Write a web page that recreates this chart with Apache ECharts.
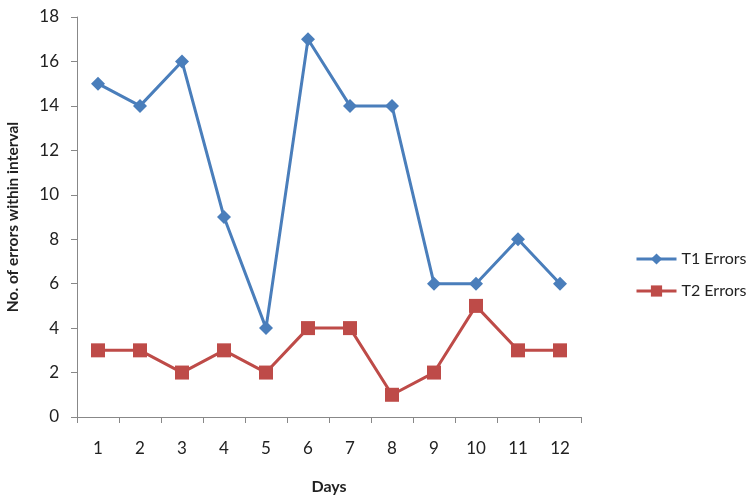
<!DOCTYPE html>
<html><head><meta charset="utf-8">
<script src="https://cdn.jsdelivr.net/npm/echarts@6/dist/echarts.min.js"></script>
<style>html,body{margin:0;padding:0;background:#fff}#c{width:750px;height:500px}</style>
</head><body><div id="c"></div>
<script>
const days = ['1','2','3','4','5','6','7','8','9','10','11','12'];
const t1Errors = [15,14,16,9,4,17,14,14,6,6,8,6];
const t2Errors = [3,3,2,3,2,4,4,1,2,5,3,3];
const FONT = 'Lato';
const chart = echarts.init(document.getElementById('c'));
chart.setOption({
  animation: false,
  backgroundColor: '#fff',
  textStyle: {fontFamily: FONT},
  grid: {left: 77, right: 169, top: 17, bottom: 83, containLabel: false, outerBoundsMode: 'none'},
  legend: {
    orient: 'vertical', left: 630, top: 246, itemGap: 16, itemWidth: 40, itemHeight: 14,
    textStyle: {fontFamily: FONT, fontSize: 16, color: '#222'},
    lineStyle: {width: 3},
    data: ['T1 Errors', 'T2 Errors']
  },
  xAxis: {
    type: 'category', data: days, boundaryGap: true,
    name: 'Days', nameLocation: 'middle', nameGap: 62,
    nameTextStyle: {fontFamily: FONT, fontWeight: 'bold', fontSize: 16, color: '#222'},
    axisLine: {lineStyle: {color: '#888', width: 1}},
    axisTick: {show: true, inside: false, length: 6, alignWithLabel: false, lineStyle: {color: '#888'}},
    axisLabel: {fontFamily: FONT, fontSize: 17, color: '#222', margin: 23}
  },
  yAxis: {
    type: 'value', min: 0, max: 18, interval: 2,
    name: 'No. of errors within interval', nameLocation: 'middle', nameGap: 56, nameRotate: 90,
    nameTextStyle: {fontFamily: FONT, fontWeight: 'bold', fontSize: 15.5, color: '#222'},
    axisLine: {show: true, lineStyle: {color: '#888', width: 1}},
    axisTick: {show: true, length: 6, lineStyle: {color: '#888'}},
    splitLine: {show: false},
    axisLabel: {fontFamily: FONT, fontSize: 17, color: '#222', margin: 18}
  },
  series: [
    {name: 'T1 Errors', type: 'line', data: t1Errors, symbol: 'diamond', symbolSize: 14,
     itemStyle: {color: '#4A7EBB'}, lineStyle: {color: '#4A7EBB', width: 3}},
    {name: 'T2 Errors', type: 'line', data: t2Errors, symbol: 'rect', symbolSize: 14,
     itemStyle: {color: '#BE4B48'}, lineStyle: {color: '#BE4B48', width: 3}}
  ]
});
</script></body></html>
